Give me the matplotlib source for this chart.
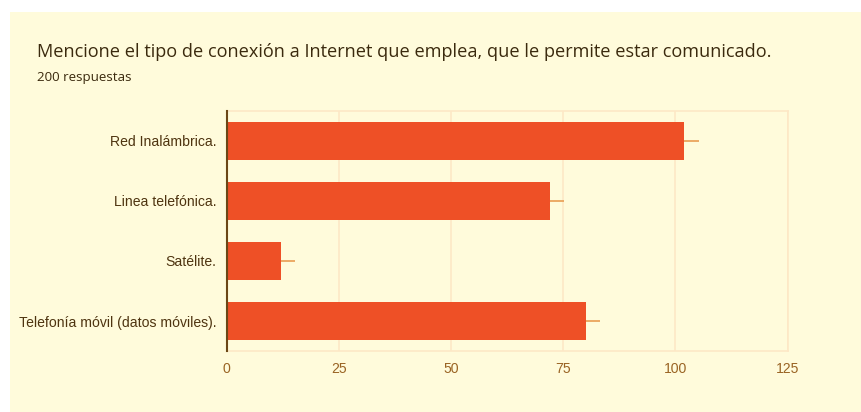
import matplotlib
matplotlib.use('Agg')
import matplotlib.pyplot as plt
from matplotlib.patches import Rectangle

# data
categories = ['Red Inalámbrica.', 'Linea telefónica.', 'Satélite.', 'Telefonía móvil (datos móviles).']
counts = [102, 72, 12, 80]
whisker = [3.2, 3.2, 3.2, 3.2]
xticks = [0, 25, 50, 75, 100, 125]

title = 'Mencione el tipo de conexión a Internet que emplea, que le permite estar comunicado.'
subtitle = '200 respuestas'

bg = '#fffbdb'
bar_color = '#ee5026'
grid_color = '#fde8c6'
tick_color = '#9a6424'

fig = plt.figure(figsize=(8.62, 4.12), dpi=100)
fig.patch.set_facecolor('white')
fig.patches.append(Rectangle((10 / 862, 0), 1, 1 - 12 / 412, transform=fig.transFigure,
                             facecolor=bg, edgecolor='none', zorder=-5))

ax = fig.add_axes([226.7 / 862, 1 - 351 / 412, (787.7 - 226.7) / 862, (351 - 111) / 412])
ax.set_facecolor(bg)

ypos = list(range(len(categories)))
ax.barh(ypos, counts, height=0.62, color=bar_color, zorder=3)
ax.errorbar(counts, ypos, xerr=[[0] * len(counts), whisker], fmt='none',
            ecolor='#eaa45c', elinewidth=1.3, capsize=0, zorder=2)

ax.set_xlim(0, 125)
ax.set_ylim(3.5, -0.5)
ax.set_xticks(xticks)
ax.set_yticks(ypos)
ax.set_yticklabels(categories)
ax.grid(axis='x', color=grid_color, linewidth=1.2, zorder=0)

for side in ['top', 'right', 'bottom']:
    ax.spines[side].set_color(grid_color)
    ax.spines[side].set_linewidth(1.2)
ax.spines['left'].set_color('#6b4716')
ax.spines['left'].set_linewidth(1.5)
ax.spines['left'].set_zorder(4)

ax.tick_params(axis='both', length=0, labelsize=10.1)
ax.tick_params(axis='x', pad=8, labelcolor=tick_color)
ax.tick_params(axis='y', pad=7.5, labelcolor='#4e3410')
for lbl in ax.get_xticklabels() + ax.get_yticklabels():
    lbl.set_family('Liberation Sans')

fig.text(37 / 862, 1 - 52 / 412, title, fontsize=13.1, color='#3b2a0e',
         family='Open Sans', va='center', ha='left')
fig.text(37 / 862, 1 - 77 / 412, subtitle, fontsize=9.6, color='#3b2a0e',
         family='Open Sans', va='center', ha='left')

fig.savefig('out.png', dpi=100, facecolor=fig.get_facecolor())
